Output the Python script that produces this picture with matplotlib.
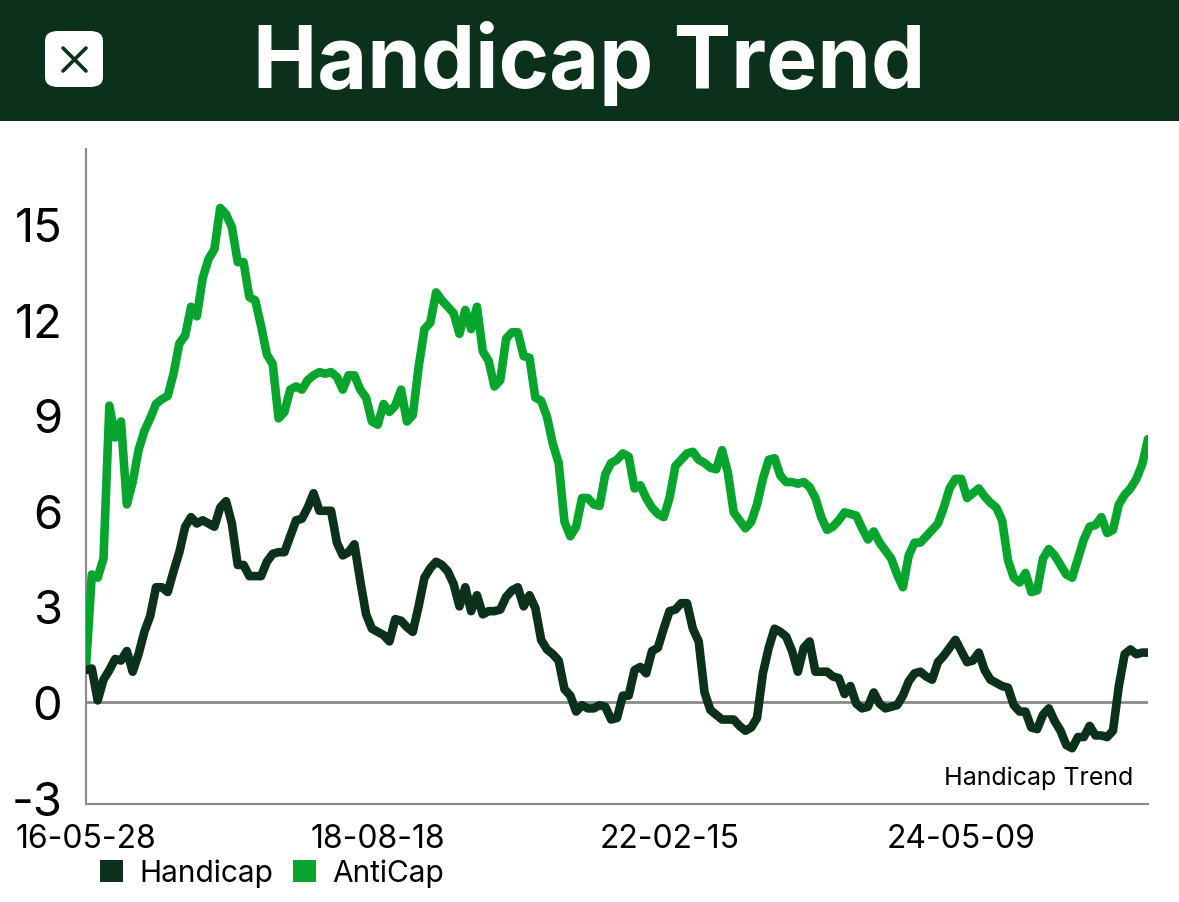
import matplotlib
matplotlib.use("Agg")
import matplotlib.pyplot as plt
from matplotlib.patches import Rectangle, FancyBboxPatch, Patch
from matplotlib.lines import Line2D

title = "Handicap Trend"
series_names = ["Handicap", "AntiCap"]
tick_labels = ["16-05-28", "18-08-18", "22-02-15", "24-05-09"]
tick_index = [0, 50, 100, 150]
y_ticks = [-3, 0, 3, 6, 9, 12, 15]

anticap = [
    1.1, 4.0, 3.9, 4.5, 9.3, 8.3, 8.8, 6.2, 6.9, 7.9,
    8.5, 8.9, 9.35, 9.5, 9.6, 10.3, 11.25, 11.5, 12.4, 12.1,
    13.3, 13.9, 14.2, 15.5, 15.3, 14.9, 13.8, 13.8, 12.7, 12.6,
    11.8, 10.9, 10.6, 8.9, 9.1, 9.8, 9.9, 9.8, 10.1, 10.25,
    10.35, 10.3, 10.35, 10.2, 9.8, 10.25, 10.25, 9.8, 9.55, 8.8,
    8.7, 9.35, 9.1, 9.3, 9.8, 8.8, 9.0, 10.5, 11.7, 11.9,
    12.85, 12.6, 12.4, 12.2, 11.55, 12.3, 11.7, 12.4, 11.0, 10.7,
    9.9, 10.1, 11.4, 11.6, 11.6, 10.85, 10.8, 9.55, 9.45, 8.95,
    8.1, 7.5, 5.65, 5.2, 5.5, 6.4, 6.4, 6.2, 6.15, 7.15,
    7.5, 7.6, 7.8, 7.7, 6.7, 6.8, 6.4, 6.1, 5.9, 5.8,
    6.4, 7.4, 7.6, 7.8, 7.85, 7.6, 7.5, 7.35, 7.3, 7.9,
    7.2, 5.95, 5.7, 5.45, 5.65, 6.2, 7.0, 7.6, 7.65, 7.1,
    6.9, 6.9, 6.85, 6.9, 6.75, 6.4, 5.8, 5.4, 5.5, 5.7,
    5.95, 5.9, 5.85, 5.45, 5.1, 5.35, 5.0, 4.75, 4.5, 4.0,
    3.6, 4.6, 5.0, 5.0, 5.2, 5.4, 5.6, 6.1, 6.7, 7.0,
    7.0, 6.4, 6.55, 6.7, 6.45, 6.25, 6.1, 5.7, 4.45, 3.9,
    3.75, 4.05, 3.45, 3.5, 4.5, 4.8, 4.6, 4.3, 4.0, 3.9,
    4.5, 5.1, 5.5, 5.55, 5.8, 5.3, 5.4, 6.2, 6.5, 6.7,
    7.0, 7.45, 8.25,
]

handicap = [
    1.0, 1.05, 0.05, 0.7, 1.0, 1.35, 1.3, 1.6, 0.95, 1.5,
    2.2, 2.7, 3.6, 3.6, 3.45, 4.1, 4.7, 5.5, 5.8, 5.6,
    5.7, 5.6, 5.5, 6.1, 6.3, 5.6, 4.3, 4.3, 3.95, 3.95,
    3.95, 4.4, 4.65, 4.7, 4.7, 5.2, 5.7, 5.75, 6.1, 6.55,
    6.0, 6.0, 6.0, 5.0, 4.6, 4.7, 4.95, 3.8, 2.75, 2.3,
    2.2, 2.1, 1.9, 2.6, 2.55, 2.35, 2.2, 3.0, 3.9, 4.2,
    4.4, 4.3, 4.1, 3.7, 3.0, 3.6, 2.85, 3.35, 2.75, 2.85,
    2.85, 2.9, 3.3, 3.5, 3.6, 3.0, 3.35, 2.95, 1.95, 1.65,
    1.5, 1.3, 0.4, 0.2, -0.3, -0.1, -0.2, -0.2, -0.1, -0.15,
    -0.55, -0.5, 0.2, 0.2, 1.0, 1.1, 0.9, 1.6, 1.7, 2.3,
    2.85, 2.9, 3.1, 3.1, 2.3, 1.9, 0.3, -0.25, -0.4, -0.55,
    -0.55, -0.55, -0.75, -0.9, -0.8, -0.5, 0.9, 1.7, 2.3, 2.2,
    2.05, 1.6, 0.95, 1.7, 1.9, 0.95, 0.95, 0.95, 0.8, 0.75,
    0.25, 0.5, -0.05, -0.2, -0.15, 0.3, -0.05, -0.2, -0.15, -0.1,
    0.2, 0.65, 0.9, 0.95, 0.8, 0.7, 1.25, 1.45, 1.7, 1.95,
    1.6, 1.25, 1.3, 1.55, 1.0, 0.7, 0.6, 0.5, 0.45, -0.1,
    -0.3, -0.3, -0.8, -0.85, -0.4, -0.2, -0.6, -0.9, -1.35, -1.45,
    -1.1, -1.1, -0.75, -1.05, -1.05, -1.1, -0.9, 0.5, 1.5, 1.65,
    1.5, 1.55, 1.55,
]

DARK = "#0b301b"
GREEN = "#07a52d"
GRAY = "#8a8a8a"
FONT = ["Inter", "DejaVu Sans"]

W, H = 1179, 903
fig = plt.figure(figsize=(W / 100, H / 100), dpi=100)
fig.patch.set_facecolor("white")

# header bar and close button
fig.patches.append(Rectangle((0, 1 - 122 / H), 1, 122 / H, transform=fig.transFigure,
                             facecolor=DARK, edgecolor="none", zorder=0))
fig.patches.append(FancyBboxPatch((45 / W, 1 - 88 / H), 58 / W, 56 / H,
                                  boxstyle="round,pad=0,rounding_size=0.011",
                                  transform=fig.transFigure, facecolor="white",
                                  edgecolor="none", zorder=1))
for (xa, ya, xb, yb) in [(63, 49, 86, 72), (63, 72, 86, 49)]:
    fig.lines.append(Line2D([xa / W, xb / W], [1 - ya / H, 1 - yb / H], transform=fig.transFigure,
                            color=DARK, lw=2.6, solid_capstyle="round", zorder=2))
fig.text(589 / W, 1 - 63 / H, title, color="white", fontsize=62, fontweight="bold",
         ha="center", va="center", family=FONT)

ax = fig.add_axes([86 / W, 1 - 805 / H, (1148 - 86) / W, (805 - 150) / H])
x = list(range(len(handicap)))
ax.axhline(0, color=GRAY, lw=2, zorder=1)
ax.plot(x, anticap, color=GREEN, lw=6.2, solid_joinstyle="round", solid_capstyle="round", zorder=3)
ax.plot(x, handicap, color=DARK, lw=6.2, solid_joinstyle="round", solid_capstyle="round", zorder=4)

ax.set_xlim(0, len(handicap) - 1)
ax.set_ylim(-3.2, 17.35)
ax.set_yticks(y_ticks)
ax.set_yticklabels([str(v) for v in y_ticks], fontsize=34, family=FONT)
ax.set_xticks(tick_index)
ax.set_xticklabels(tick_labels, fontsize=23, family=FONT)
ax.tick_params(axis="both", length=0)
ax.tick_params(axis="y", pad=17)
ax.tick_params(axis="x", pad=14)
for s in ["top", "right"]:
    ax.spines[s].set_visible(False)
for s in ["left", "bottom"]:
    ax.spines[s].set_color(GRAY)
    ax.spines[s].set_linewidth(1.5)

ax.text(1133 / W, 1 - 778 / H, title, transform=fig.transFigure, fontsize=18,
        ha="right", va="center", family=FONT, color="black")

handles = [Patch(facecolor=DARK, edgecolor="none"), Patch(facecolor=GREEN, edgecolor="none")]
fig.legend(handles, series_names, loc="center left", bbox_to_anchor=(100 / W, 1 - 874 / H),
           ncol=2, frameon=False, handlelength=0.78, handleheight=0.78, borderpad=0,
           borderaxespad=0, handletextpad=0.55, columnspacing=0.65,
           prop={"family": FONT, "size": 21.5})

fig.savefig("out.png", dpi=100)
